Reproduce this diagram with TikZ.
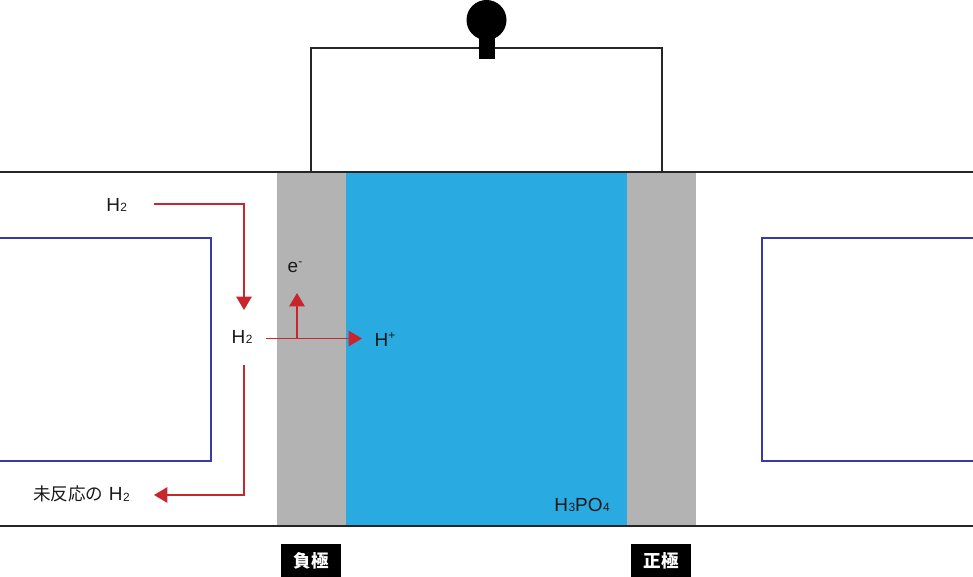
\documentclass[tikz,border=0pt]{standalone}
\usepackage{fontspec}
\setmainfont{Liberation Sans}
\newfontfamily\cjk{Noto Sans CJK JP}
\usepackage{xcolor}
\usetikzlibrary{arrows.meta}
\definecolor{flowred}{HTML}{C8252C}
\definecolor{acidblue}{HTML}{29ABE2}
\definecolor{elecgray}{HTML}{B3B3B3}
\definecolor{gasblue}{HTML}{3A3AA6}
\newcommand{\gsub}[1]{\kern0.3pt\raisebox{-0.2pt}[0pt][0pt]{\fontsize{6.8}{8}\selectfont #1}}
\newcommand{\gsup}[1]{\raisebox{3.6pt}[0pt][0pt]{\fontsize{6.8}{8}\selectfont #1}}
\tikzset{
  flow/.style={draw=flowred, line width=0.8pt, -{Triangle[length=7.6pt,width=8.8pt]}},
  gas/.style={inner sep=0pt, font=\fontsize{10.8}{12}\selectfont, text=black!90},
  tag/.style={fill=black, text=white, minimum width=34pt, minimum height=19pt, inner sep=0pt, font=\cjk\bfseries\fontsize{10}{11}\selectfont},
  wall/.style={draw=black!85, line width=0.65pt},
  channel/.style={draw=gasblue, line width=0.65pt}
}
\begin{document}
\begin{tikzpicture}[x=0.02cm,y=-0.02cm]
\useasboundingbox (0,0) rectangle (973,577);

% electrodes and electrolyte
\fill [elecgray] (277,172) rectangle (346,526);
\fill [acidblue] (346,172) rectangle (627,526);
\fill [elecgray] (627,172) rectangle (696,526);
\draw [wall] (0,172) -- (973,172);
\draw [wall] (0,526) -- (973,526);

% outer circuit with lamp
\draw [wall] (311,172) -- (311,48) -- (662,48) -- (662,172);
\fill [black] (486.5,20) circle (20);
\fill [black] (478.5,35) rectangle (494.5,59);

% gas channels
\draw [channel] (0,238) -- (211,238) -- (211,461) -- (0,461);
\draw [channel] (973,238) -- (762,238) -- (762,461) -- (973,461);

% labels
\node [gas] (h2in) at (116.7,204.5) {H\gsub{2}};
\node [gas] (h2mid) at (242,336.5) {H\gsub{2}};
\node [gas] (eminus) at (295,267) {e\gsup{-}};
\node [gas] (hplus) at (385,339.5) {H\gsup{+}};
\node [gas] (h2out) at (81.5,494) {{\cjk\fontsize{10}{12}\selectfont 未反応の} H\gsub{2}};
\node [gas] (acid) at (582,504.5) {H\gsub{3}PO\gsub{4}};
\node [tag] (anode) at (311,560.5) {負極};
\node [tag] (cathode) at (661,560.5) {正極};

% flows
\coordinate (inend) at (154,204);
\coordinate (intip) at (244,310);
\coordinate (midstart) at (266,338.5);
\coordinate (midtip) at (362,338.5);
\coordinate (branch) at (297,338.5);
\coordinate (uptip) at (297,293);
\coordinate (outstart) at (244,365);
\coordinate (outtip) at (154,495);
\draw [flow] (inend) -| (intip);
\draw [flow] (midstart) -- (midtip);
\draw [flow] (branch) -- (uptip);
\draw [flow] (outstart) |- (outtip);
\end{tikzpicture}
\end{document}
